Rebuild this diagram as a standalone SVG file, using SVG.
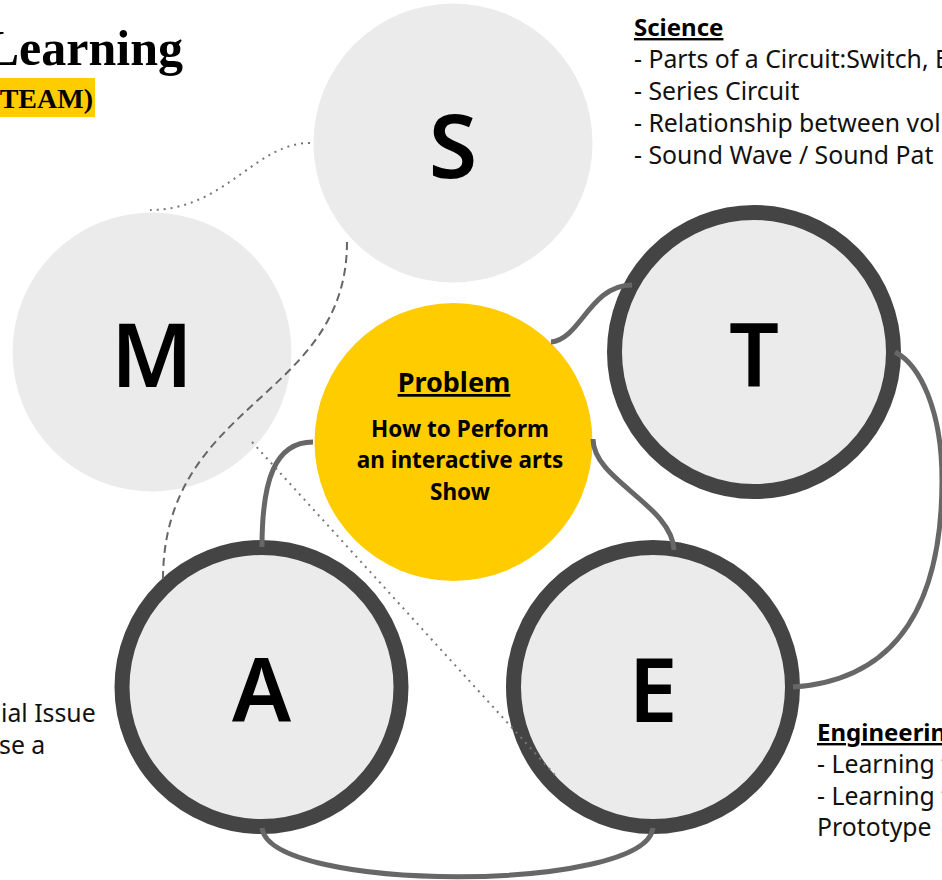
<svg xmlns="http://www.w3.org/2000/svg" width="942" height="880" viewBox="0 0 942 880">
<style>
.soft{fill:#ebebeb;}
.ring{fill:#ebebeb;stroke:#444444;stroke-width:15;}
.letter{font-family:"Noto Sans","Open Sans",sans-serif;font-weight:600;font-size:88px;fill:#000;text-anchor:middle;}
.link{fill:none;stroke:#676767;stroke-width:5;stroke-linecap:butt;}
.dash{fill:none;stroke:#666;stroke-width:2;stroke-dasharray:8 5;}
.dot{fill:none;stroke:#777;stroke-width:2;stroke-dasharray:2 5;}
.body{font-family:"Noto Sans","Open Sans",sans-serif;font-size:24.8px;fill:#111;}
.head{font-family:"Noto Sans","Open Sans",sans-serif;font-size:24px;font-weight:700;fill:#000;text-decoration:underline;}
.title{font-family:"Liberation Serif",serif;font-weight:700;fill:#000;}
.prob{font-family:"Noto Sans","Open Sans",sans-serif;font-weight:700;fill:#000;text-anchor:middle;}
</style>
<rect width="942" height="880" fill="#fff"/>
<g id="title">
<text class="title" x="183" y="65" font-size="50" text-anchor="end">Learning</text>
<rect x="0" y="78" width="95" height="39" fill="#ffcc00"/>
<text class="title" x="93" y="108" font-size="28" text-anchor="end">TEAM)</text>
</g>
<g id="node-S">
<circle class="soft" cx="453" cy="143" r="139.5"/>
<text class="letter" x="453" y="178">S</text>
</g>
<g id="node-M">
<circle class="soft" cx="152" cy="352" r="139.5"/>
<text class="letter" x="152" y="387">M</text>
</g>
<g id="node-problem">
<circle cx="453.5" cy="442" r="139" fill="#ffcc00"/>
<text class="prob" x="454" y="392" font-size="27" text-decoration="underline">Problem</text>
<text class="prob" x="460" y="437" font-size="22.5">How to Perform</text>
<text class="prob" x="460" y="468" font-size="22.5">an interactive arts</text>
<text class="prob" x="460" y="500" font-size="22.5">Show</text>
</g>
<g id="node-T">
<circle class="ring" cx="754" cy="352" r="139.5"/>
<text class="letter" x="754" y="387">T</text>
</g>
<g id="node-A">
<circle class="ring" cx="261.5" cy="687" r="139.5"/>
<text class="letter" x="261.5" y="722">A</text>
</g>
<g id="node-E">
<circle class="ring" cx="653" cy="687" r="139.5"/>
<text class="letter" x="653" y="722">E</text>
</g>
<g id="connectors">
<path class="link" d="M551,342 C580,340 590,285 632,285"/>
<path class="link" d="M593,439 C593,480 672,505 674,550"/>
<path class="link" d="M313,442 C275,442 262,480 262,547"/>
<path class="link" d="M895,352 C920,365 942,410 942,480 C942,600 900,680 793,687"/>
<path class="link" d="M262,828 C270,893 645,893 653,828"/>
<path class="dash" d="M347,242 C347,400 163,400 163,580"/>
<path class="dot" d="M310,143 C255,143 225,210 150,210"/>
<path class="dot" d="M252,442 L555,775"/>
</g>
<g id="science-notes">
<text class="head" x="634" y="36">Science</text>
<text class="body" x="634" y="68">- Parts of a Circuit:Switch, B</text>
<text class="body" x="634" y="100">- Series Circuit</text>
<text class="body" x="634" y="132">- Relationship between vol</text>
<text class="body" x="634" y="164">- Sound Wave / Sound Pat</text>
</g>
<g id="arts-notes">
<text class="body" x="1" y="722">ial Issue</text>
<text class="body" x="-1" y="754">se a</text>
</g>
<g id="engineering-notes">
<text class="head" x="817" y="741">Engineering</text>
<text class="body" x="817" y="773">- Learning t</text>
<text class="body" x="817" y="805">- Learning t</text>
<text class="body" x="817" y="836">Prototype</text>
</g>
</svg>
